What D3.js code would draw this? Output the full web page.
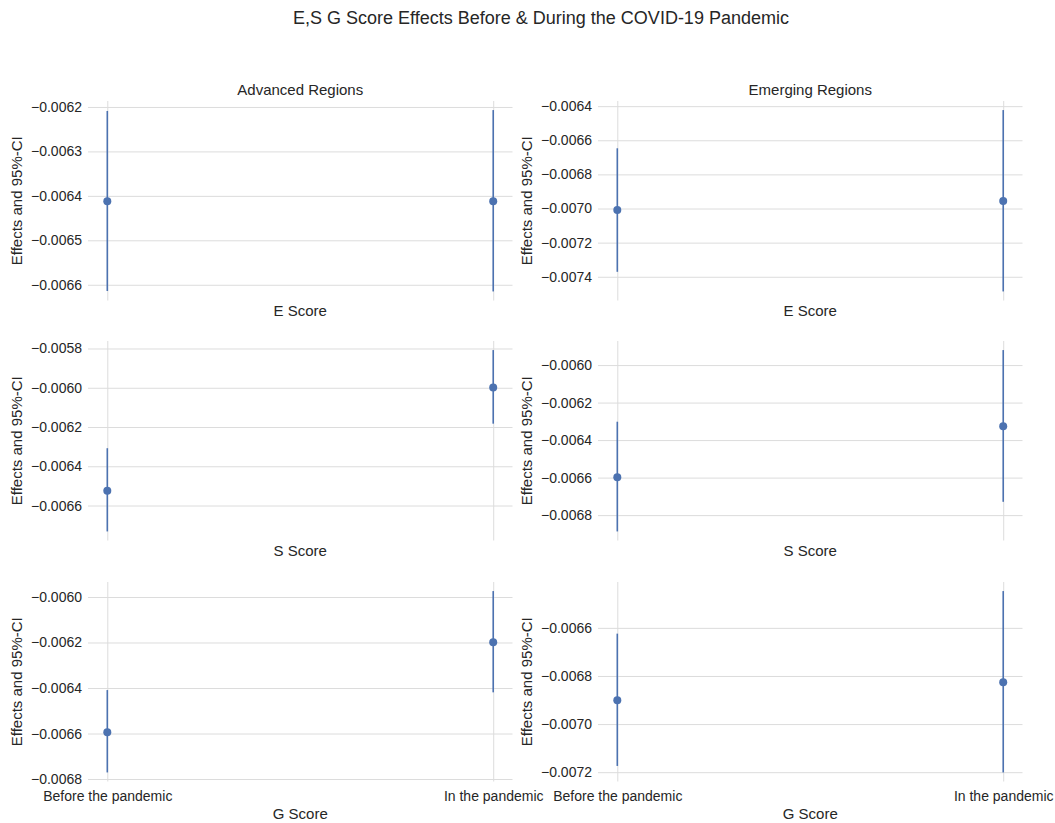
<!DOCTYPE html>
<html lang="en">
<head>
<meta charset="utf-8">
<script src="https://d3js.org/d3.v7.min.js"></script>
<style>
  body { margin: 0; background: #fff; }
  text { font-family: "Liberation Sans", Arial, sans-serif; fill: #262626; }
</style>
</head>
<body>
<script>
// chart values
const regions = ["Advanced Regions", "Emerging Regions"];
const scores = ["E Score", "S Score", "G Score"];
const periods = ["Before the pandemic", "In the pandemic"];

// rows: E, S, G ; each row: [before, in]
const advancedMean  = [[-0.006412, -0.006412], [-0.006525, -0.005999], [-0.006594, -0.006199]];
const advancedLower = [[-0.006614, -0.006615], [-0.006732, -0.006183], [-0.006771, -0.006419]];
const advancedUpper = [[-0.006209, -0.006207], [-0.006308, -0.005808], [-0.006409, -0.005974]];

const emergingMean  = [[-0.007009, -0.006956], [-0.006598, -0.006326], [-0.006901, -0.006826]];
const emergingLower = [[-0.007371, -0.007486], [-0.006887, -0.006729], [-0.007174, -0.007201]];
const emergingUpper = [[-0.006647, -0.006423], [-0.006302, -0.005920], [-0.006624, -0.006447]];

const advancedTicks = [
  [-0.0066, -0.0065, -0.0064, -0.0063, -0.0062],
  [-0.0066, -0.0064, -0.0062, -0.0060, -0.0058],
  [-0.0068, -0.0066, -0.0064, -0.0062, -0.0060]
];
const emergingTicks = [
  [-0.0074, -0.0072, -0.0070, -0.0068, -0.0066, -0.0064],
  [-0.0068, -0.0066, -0.0064, -0.0062, -0.0060],
  [-0.0072, -0.0070, -0.0068, -0.0066]
];

const W = 1055, H = 823;
const colLeft = [88, 598];
const axW = 424.5;
const rowTop = [101, 341, 582];
const axH = 199.5;
const blue = "#4c72b0";

const svg = d3.select("body").append("svg")
  .attr("width", W)
  .attr("height", H);

// figure title
svg.append("text")
  .attr("x", 541)
  .attr("y", 24)
  .attr("text-anchor", "middle")
  .style("font-size", "18px")
  .text("E,S G Score Effects Before & During the COVID-19 Pandemic");

const fmt = d3.format(".4f");

function drawPanel(row, col, mean, lower, upper, ticks) {
  const g = svg.append("g")
    .attr("transform", "translate(" + colLeft[col] + "," + rowTop[row] + ")");

  // x: two categories with 5% margins like matplotlib
  const x = d3.scaleLinear().domain([-0.05, 1.05]).range([0, axW]);
  const lo = d3.min(lower), hi = d3.max(upper);
  const pad = (hi - lo) * 0.05;
  const y = d3.scaleLinear().domain([lo - pad, hi + pad]).range([axH, 0]);

  // horizontal grid + y tick labels
  const yAxis = g.append("g")
    .call(d3.axisLeft(y).tickValues(ticks).tickFormat(fmt).tickSize(-axW).tickPadding(6));
  yAxis.select(".domain").remove();
  yAxis.selectAll("line").attr("stroke", "#dcdcdc").attr("stroke-width", 1);
  yAxis.selectAll("text")
    .attr("fill", "#262626")
    .style("font-size", "14px")
    .style("font-family", "Liberation Sans, Arial, sans-serif");

  // vertical grid + x tick labels
  const xAxis = g.append("g")
    .attr("transform", "translate(0," + axH + ")")
    .call(d3.axisBottom(x).tickValues([0, 1]).tickSize(-axH).tickPadding(10)
      .tickFormat(i => row === 2 ? periods[i] : ""));
  xAxis.select(".domain").remove();
  xAxis.selectAll("line").attr("stroke", "#dcdcdc").attr("stroke-width", 1);
  xAxis.selectAll("text")
    .attr("fill", "#262626")
    .style("font-size", "14px")
    .style("font-family", "Liberation Sans, Arial, sans-serif");

  // error bars
  g.selectAll(".ci")
    .data(mean)
    .enter()
    .append("line")
    .attr("x1", (d, i) => x(i))
    .attr("x2", (d, i) => x(i))
    .attr("y1", (d, i) => y(lower[i]))
    .attr("y2", (d, i) => y(upper[i]))
    .attr("stroke", blue)
    .attr("stroke-width", 1.6);

  // points
  g.selectAll(".pt")
    .data(mean)
    .enter()
    .append("circle")
    .attr("cx", (d, i) => x(i))
    .attr("cy", d => y(d))
    .attr("r", 4)
    .attr("fill", blue);

  // axis labels
  g.append("text")
    .attr("x", axW / 2)
    .attr("y", row === 2 ? axH + 37 : axH + 15)
    .attr("text-anchor", "middle")
    .style("font-size", "15px")
    .text(scores[row]);

  g.append("text")
    .attr("transform", "translate(-66," + (axH / 2) + ") rotate(-90)")
    .attr("text-anchor", "middle")
    .style("font-size", "15px")
    .text("Effects and 95%-CI");

  if (row === 0) {
    g.append("text")
      .attr("x", axW / 2)
      .attr("y", -6)
      .attr("text-anchor", "middle")
      .style("font-size", "15px")
      .text(regions[col]);
  }
}

for (let r = 0; r < 3; r++) {
  drawPanel(r, 0, advancedMean[r], advancedLower[r], advancedUpper[r], advancedTicks[r]);
  drawPanel(r, 1, emergingMean[r], emergingLower[r], emergingUpper[r], emergingTicks[r]);
}
</script>
</body>
</html>
